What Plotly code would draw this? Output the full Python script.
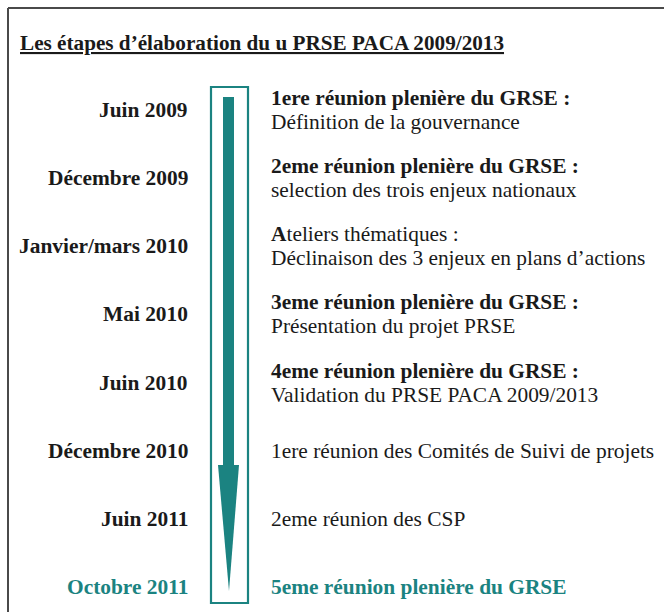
import plotly.graph_objects as go

# ---- data ----
title = "Les étapes d’élaboration du u PRSE PACA 2009/2013"
dates = ["Juin 2009", "Décembre 2009", "Janvier/mars 2010", "Mai 2010",
         "Juin 2010", "Décembre 2010", "Juin 2011", "Octobre 2011"]
headlines = ["<b>1ere réunion plenière du GRSE :</b>",
             "<b>2eme réunion plenière du GRSE :</b>",
             "<b>A</b>teliers thématiques :",
             "<b>3eme réunion plenière du GRSE :</b>",
             "<b>4eme réunion plenière du GRSE :</b>",
             "1ere réunion des Comités de Suivi de projets",
             "2eme réunion des CSP",
             "<b>5eme réunion plenière du GRSE</b>"]
details = ["Définition de la gouvernance",
           "selection des trois enjeux nationaux",
           "Déclinaison des 3 enjeux en plans d’actions",
           "Présentation du projet PRSE",
           "Validation du PRSE PACA 2009/2013",
           "", "", ""]
highlight = [False] * 7 + [True]

# ---- style ----
W, H = 664, 612
TEAL = "#1b8381"
DARK = "#1a1a1a"
FONT = "Liberation Serif"
FS = 21.4
Y0, STEP = 110, 68.15
DATE_X, TEXT_X = 190, 269
HALF = 12

fig = go.Figure()
fig.add_trace(go.Scatter(x=[0, W], y=[0, H], mode="markers",
                         marker=dict(opacity=0), hoverinfo="skip", showlegend=False))

shapes = []
# frame
shapes.append(dict(type="line", x0=8, x1=W, y0=8, y1=8, line=dict(color="#4a4a4a", width=2)))
shapes.append(dict(type="line", x0=8, x1=8, y0=8, y1=H, line=dict(color="#4a4a4a", width=2)))
# box around arrow
shapes.append(dict(type="rect", x0=211, x1=248, y0=87, y1=603,
                   line=dict(color=TEAL, width=2.2), fillcolor="rgba(0,0,0,0)"))
# arrow shaft + head
shapes.append(dict(type="rect", x0=223, x1=234, y0=97, y1=466,
                   line=dict(width=0), fillcolor=TEAL))
shapes.append(dict(type="path", path="M 218 465 L 239 465 L 229 591 Z",
                   line=dict(width=0), fillcolor=TEAL))

ann = []
ann.append(dict(x=18, y=43, text="<u><b>" + title + "</b></u>", showarrow=False,
                xanchor="left", yanchor="middle",
                font=dict(family=FONT, size=21.2, color=DARK)))
for i, (d, h, dt, hl) in enumerate(zip(dates, headlines, details, highlight)):
    y = Y0 + i * STEP
    col = TEAL if hl else DARK
    ann.append(dict(x=DATE_X, y=y, text="<b>" + d + "</b>", showarrow=False,
                    xanchor="right", yanchor="middle",
                    font=dict(family=FONT, size=FS, color=col)))
    if dt:
        ann.append(dict(x=TEXT_X, y=y - HALF, text=h, showarrow=False,
                        xanchor="left", yanchor="middle",
                        font=dict(family=FONT, size=FS, color=col)))
        ann.append(dict(x=TEXT_X, y=y + HALF, text=dt, showarrow=False,
                        xanchor="left", yanchor="middle",
                        font=dict(family=FONT, size=FS, color=col)))
    else:
        ann.append(dict(x=TEXT_X, y=y, text=h, showarrow=False,
                        xanchor="left", yanchor="middle",
                        font=dict(family=FONT, size=FS, color=col)))

fig.update_layout(
    width=W, height=H, margin=dict(l=0, r=0, t=0, b=0),
    paper_bgcolor="white", plot_bgcolor="white",
    xaxis=dict(range=[0, W], visible=False, fixedrange=True),
    yaxis=dict(range=[H, 0], visible=False, fixedrange=True),
    shapes=shapes, annotations=ann, showlegend=False,
)
fig.write_html("out.html", config={"displayModeBar": False},
               post_script="document.body.style.margin='0';document.body.style.overflow='hidden';")
